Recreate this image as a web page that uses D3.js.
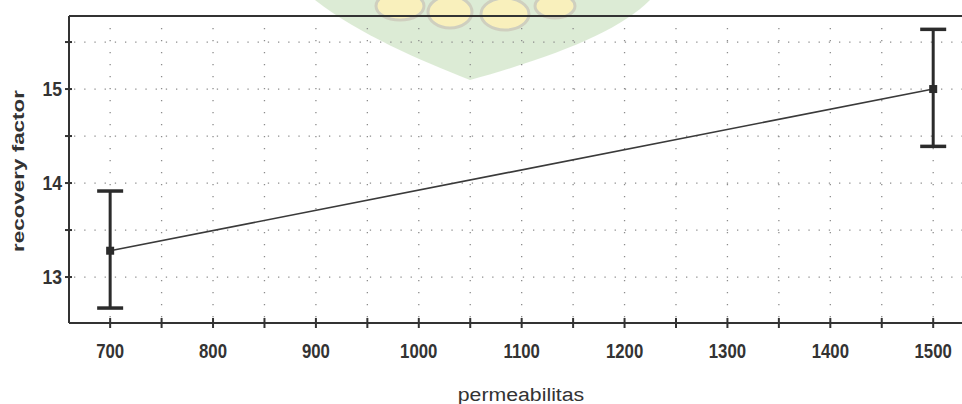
<!DOCTYPE html>
<html>
<head>
<meta charset="utf-8">
<script src="https://cdn.jsdelivr.net/npm/d3@7"></script>
<style>
  body { margin: 0; background: #fff; }
  svg { display: block; font-family: "Liberation Sans", Arial, sans-serif; }
</style>
</head>
<body>
<svg id="chart" width="962" height="404"></svg>
<script>
// values
var permeabilitas = [700, 1500];
var recovery = [13.28, 15.0];
var errLow = [12.67, 14.39];
var errHigh = [13.915, 15.635];

var xTicks = [700, 800, 900, 1000, 1100, 1200, 1300, 1400, 1500];
var xMinor = d3.range(700, 1501, 50);
var yTicks = [13, 14, 15];
var yMinor = [13, 13.5, 14, 14.5, 15, 15.5];

var svg = d3.select('#chart');
var plotLeft = 69, plotTop = 16, plotBottom = 323, plotRight = 962;

var x = d3.scaleLinear().domain([660, 1528]).range([plotLeft, plotRight]);
var y = d3.scaleLinear().domain([12.511, 15.777]).range([plotBottom, plotTop]);

// faint watermark behind the plot
var wm = svg.append('g').style('opacity', 0.4);
wm.append('path')
	.attr('d', 'M315,0 L650,0 C620,30 560,55 470,80 C420,60 360,35 315,0 Z')
	.style('fill', '#a9cf98');
[[400, 6, 24, 14], [450, 12, 22, 16], [505, 14, 24, 16], [555, 6, 20, 12]].forEach(function(e){
	wm.append('ellipse')
		.attr('cx', e[0]).attr('cy', e[1])
		.attr('rx', e[2]).attr('ry', e[3])
		.style('fill', '#f2dc5a')
		.style('stroke', '#8a8a60')
		.style('stroke-width', 3);
});

// dotted grid
var grid = svg.append('g');
grid.selectAll('.vgrid')
	.data(xMinor)
	.enter().append('line')
	.attr('x1', d => x(d)).attr('x2', d => x(d))
	.attr('y1', plotTop + 12).attr('y2', plotBottom)
	.style('stroke', '#8c8c8c')
	.style('stroke-width', 1.3)
	.style('stroke-dasharray', '1.3,10.7');
grid.selectAll('.hgrid')
	.data(yMinor)
	.enter().append('line')
	.attr('x1', plotLeft + 5).attr('x2', plotRight)
	.attr('y1', d => y(d)).attr('y2', d => y(d))
	.style('stroke', '#8c8c8c')
	.style('stroke-width', 1.3)
	.style('stroke-dasharray', '1.3,8.9');

// frame
var frame = svg.append('g').style('stroke', '#333').style('stroke-width', 2);
frame.append('line').attr('x1', plotLeft).attr('x2', plotRight).attr('y1', plotTop).attr('y2', plotTop);
frame.append('line').attr('x1', plotLeft).attr('x2', plotLeft).attr('y1', plotTop).attr('y2', plotBottom);
frame.append('line').attr('x1', plotLeft).attr('x2', plotRight).attr('y1', plotBottom).attr('y2', plotBottom);

// tick marks crossing the axes
frame.selectAll('.xt')
	.data(xMinor)
	.enter().append('line')
	.attr('x1', d => x(d)).attr('x2', d => x(d))
	.attr('y1', plotBottom - 5).attr('y2', plotBottom + 5);
frame.selectAll('.yt')
	.data(yMinor)
	.enter().append('line')
	.attr('x1', plotLeft - 4).attr('x2', plotLeft + 3)
	.attr('y1', d => y(d)).attr('y2', d => y(d));

// tick labels
svg.selectAll('.xl')
	.data(xTicks)
	.enter().append('text')
	.attr('transform', d => `translate(${x(d)},${358}) scale(1.05,1.25)`)
	.attr('text-anchor', 'middle')
	.style('font-size', '16px')
	.style('font-weight', 'bold')
	.style('fill', '#333')
	.text(d => d);

svg.selectAll('.yl')
	.data(yTicks)
	.enter().append('text')
	.attr('transform', d => `translate(62,${y(d) + 7}) scale(1.1,1.25)`)
	.attr('text-anchor', 'end')
	.style('font-size', '16px')
	.style('font-weight', 'bold')
	.style('fill', '#333')
	.text(d => d);

// axis titles
svg.append('text')
	.attr('transform', 'translate(521,401) scale(1.12,1)')
	.attr('text-anchor', 'middle')
	.style('font-size', '19px')
	.style('fill', '#333')
	.text('permeabilitas');

svg.append('text')
	.attr('transform', 'translate(24,171) rotate(-90) scale(1.4,1)')
	.attr('text-anchor', 'middle')
	.style('font-size', '16px')
	.style('font-weight', 'bold')
	.style('fill', '#333')
	.text('recovery factor');

// series
var pts = permeabilitas.map((p, i) => ({p: p, v: recovery[i], lo: errLow[i], hi: errHigh[i]}));

svg.append('path')
	.datum(pts)
	.attr('d', d3.line().x(d => x(d.p)).y(d => y(d.v)))
	.style('fill', 'none')
	.style('stroke', '#3a3a3a')
	.style('stroke-width', 1.6);

var eb = svg.selectAll('.eb')
	.data(pts)
	.enter().append('g')
	.style('stroke', '#2b2b2b');

eb.append('line')
	.attr('x1', d => x(d.p)).attr('x2', d => x(d.p))
	.attr('y1', d => y(d.hi)).attr('y2', d => y(d.lo))
	.style('stroke-width', 3);
eb.append('line')
	.attr('x1', d => x(d.p) - 13).attr('x2', d => x(d.p) + 13)
	.attr('y1', d => y(d.hi)).attr('y2', d => y(d.hi))
	.style('stroke-width', 3.5);
eb.append('line')
	.attr('x1', d => x(d.p) - 13).attr('x2', d => x(d.p) + 13)
	.attr('y1', d => y(d.lo)).attr('y2', d => y(d.lo))
	.style('stroke-width', 3.5);

svg.selectAll('.mk')
	.data(pts)
	.enter().append('rect')
	.attr('x', d => x(d.p) - 4).attr('y', d => y(d.v) - 4)
	.attr('width', 8).attr('height', 8)
	.style('fill', '#2b2b2b');
</script>
</body>
</html>
